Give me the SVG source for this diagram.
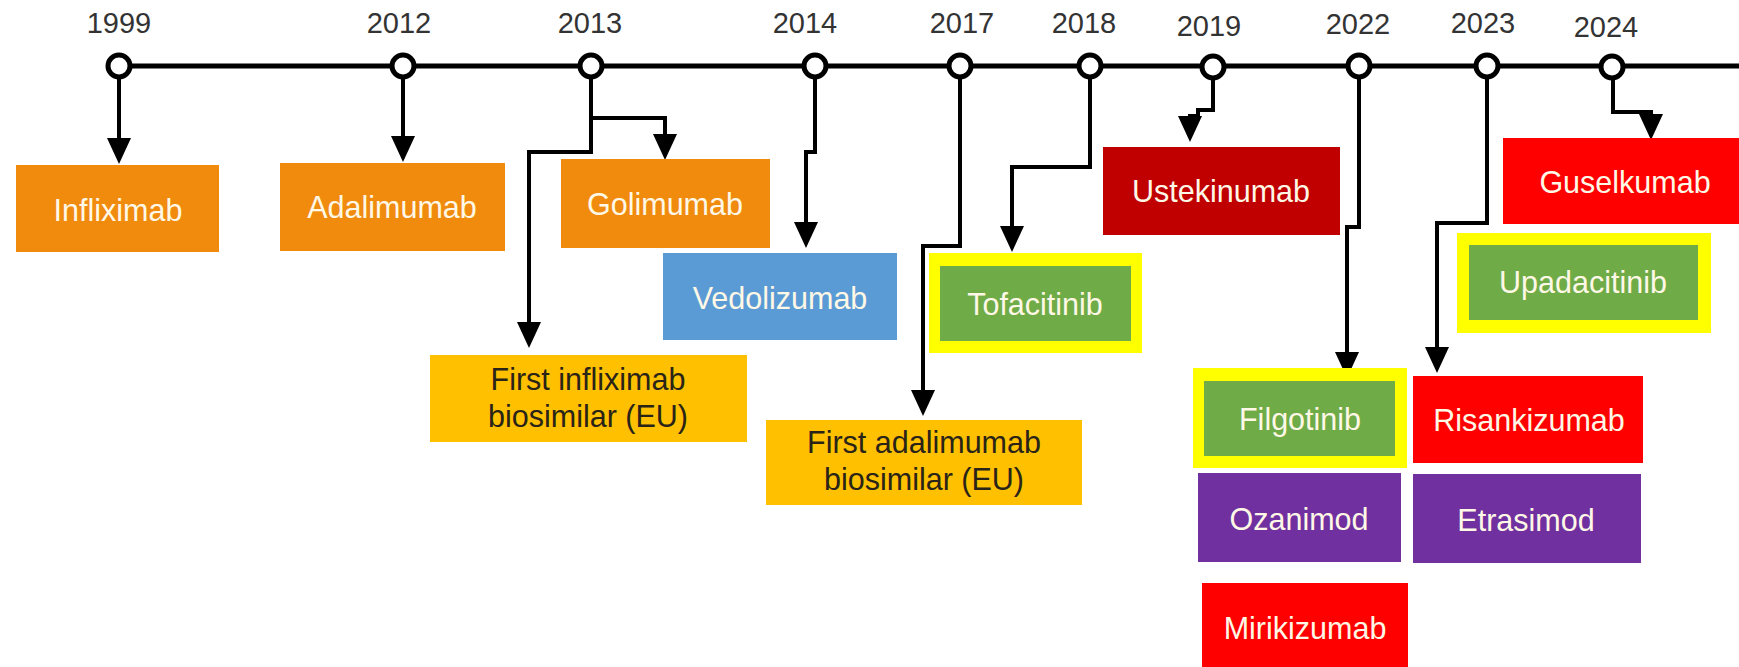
<svg xmlns="http://www.w3.org/2000/svg" width="1739" height="667" viewBox="0 0 1739 667">
<style>
.yr{font-family:"Liberation Sans",Arial,sans-serif;font-size:29px;fill:#333;text-anchor:middle}
.lb{font-family:"Liberation Sans",Arial,sans-serif;font-size:30.5px;fill:#FFF8E6;text-anchor:middle}
.dk{font-family:"Liberation Sans",Arial,sans-serif;font-size:30.5px;fill:#2A2418;text-anchor:middle}
.or{fill:#F08B0E}.am{fill:#FFC000}.bl{fill:#5B9BD5}.gr{fill:#6FAB46}.ye{fill:#FFFF00}
.dr{fill:#C00000}.rd{fill:#FF0000}.pu{fill:#7030A0}
.con path{fill:none;stroke:#000;stroke-width:4;marker-end:url(#ah)}
.tick{fill:#fff;stroke:#000;stroke-width:5}
</style>
<defs>
<marker id="ah" markerUnits="userSpaceOnUse" markerWidth="26" markerHeight="24" refX="20" refY="12" orient="auto">
<path d="M0,0 L26,12 L0,24 Z" fill="#000"/>
</marker>
</defs>
<rect width="1739" height="667" fill="#fff"/>
<g id="timeline">
<line x1="119" y1="66" x2="1739" y2="66" stroke="#000" stroke-width="5"/>
<circle class="tick" cx="119" cy="66" r="11"/>
<circle class="tick" cx="403" cy="66" r="11"/>
<circle class="tick" cx="591" cy="66" r="11"/>
<circle class="tick" cx="815" cy="66" r="11"/>
<circle class="tick" cx="960" cy="66" r="11"/>
<circle class="tick" cx="1090" cy="66" r="11"/>
<circle class="tick" cx="1213" cy="67" r="11"/>
<circle class="tick" cx="1359" cy="66" r="11"/>
<circle class="tick" cx="1487" cy="66" r="11"/>
<circle class="tick" cx="1612" cy="67" r="11"/>
<text class="yr" x="119" y="33">1999</text>
<text class="yr" x="399" y="33">2012</text>
<text class="yr" x="590" y="33">2013</text>
<text class="yr" x="805" y="33">2014</text>
<text class="yr" x="962" y="33">2017</text>
<text class="yr" x="1084" y="33">2018</text>
<text class="yr" x="1209" y="36">2019</text>
<text class="yr" x="1358" y="34">2022</text>
<text class="yr" x="1483" y="33">2023</text>
<text class="yr" x="1606" y="37">2024</text>
</g>
<g class="con" id="connectors">
<path d="M119,79 V158"/>
<path d="M403,79 V156"/>
<path d="M591,79 V118 H665 V154"/>
<path d="M591,79 V152 H529 V342"/>
<path d="M815,79 V152 H806 V242"/>
<path d="M960,79 V246 H923 V410"/>
<path d="M1090,79 V167 H1012 V246"/>
<path d="M1213,80 V110 H1198 V116 H1190 V136"/>
<path d="M1359,79 V227 H1347 V372"/>
<path d="M1487,79 V223 H1437 V367"/>
<path d="M1613,80 V112 H1651 V134"/>
</g>
<g id="infliximab"><rect class="or" x="16" y="165" width="203" height="87"/><text class="lb" x="118" y="221">Infliximab</text></g>
<g id="adalimumab"><rect class="or" x="280" y="163" width="225" height="88"/><text class="lb" x="392" y="218">Adalimumab</text></g>
<g id="golimumab"><rect class="or" x="561" y="159" width="209" height="89"/><text class="lb" x="665" y="215">Golimumab</text></g>
<g id="vedolizumab"><rect class="bl" x="663" y="253" width="234" height="87"/><text class="lb" x="780" y="309">Vedolizumab</text></g>
<g id="first-infliximab-biosimilar"><rect class="am" x="430" y="355" width="317" height="87"/><text class="dk" x="588" y="390">First infliximab</text><text class="dk" x="588" y="427">biosimilar (EU)</text></g>
<g id="first-adalimumab-biosimilar"><rect class="am" x="766" y="420" width="316" height="85"/><text class="dk" x="924" y="453">First adalimumab</text><text class="dk" x="924" y="490">biosimilar (EU)</text></g>
<g id="tofacitinib"><rect class="ye" x="929" y="253" width="213" height="100"/><rect class="gr" x="940" y="266" width="191" height="75"/><text class="lb" x="1035" y="315">Tofacitinib</text></g>
<g id="ustekinumab"><rect class="dr" x="1103" y="147" width="237" height="88"/><text class="lb" x="1221" y="202">Ustekinumab</text></g>
<g id="guselkumab"><rect class="rd" x="1503" y="138" width="236" height="86"/><text class="lb" x="1625" y="193">Guselkumab</text></g>
<g id="upadacitinib"><rect class="ye" x="1457" y="233" width="254" height="100"/><rect class="gr" x="1469" y="245" width="229" height="75"/><text class="lb" x="1583" y="293">Upadacitinib</text></g>
<g id="filgotinib"><rect class="ye" x="1193" y="368" width="214" height="100"/><rect class="gr" x="1204" y="381" width="191" height="75"/><text class="lb" x="1300" y="430">Filgotinib</text></g>
<g id="risankizumab"><rect class="rd" x="1413" y="376" width="230" height="87"/><text class="lb" x="1529" y="431">Risankizumab</text></g>
<g id="ozanimod"><rect class="pu" x="1198" y="473" width="203" height="89"/><text class="lb" x="1299" y="530">Ozanimod</text></g>
<g id="etrasimod"><rect class="pu" x="1413" y="474" width="228" height="89"/><text class="lb" x="1526" y="531">Etrasimod</text></g>
<g id="mirikizumab"><rect class="rd" x="1202" y="583" width="206" height="84"/><text class="lb" x="1305" y="639">Mirikizumab</text></g>
</svg>
